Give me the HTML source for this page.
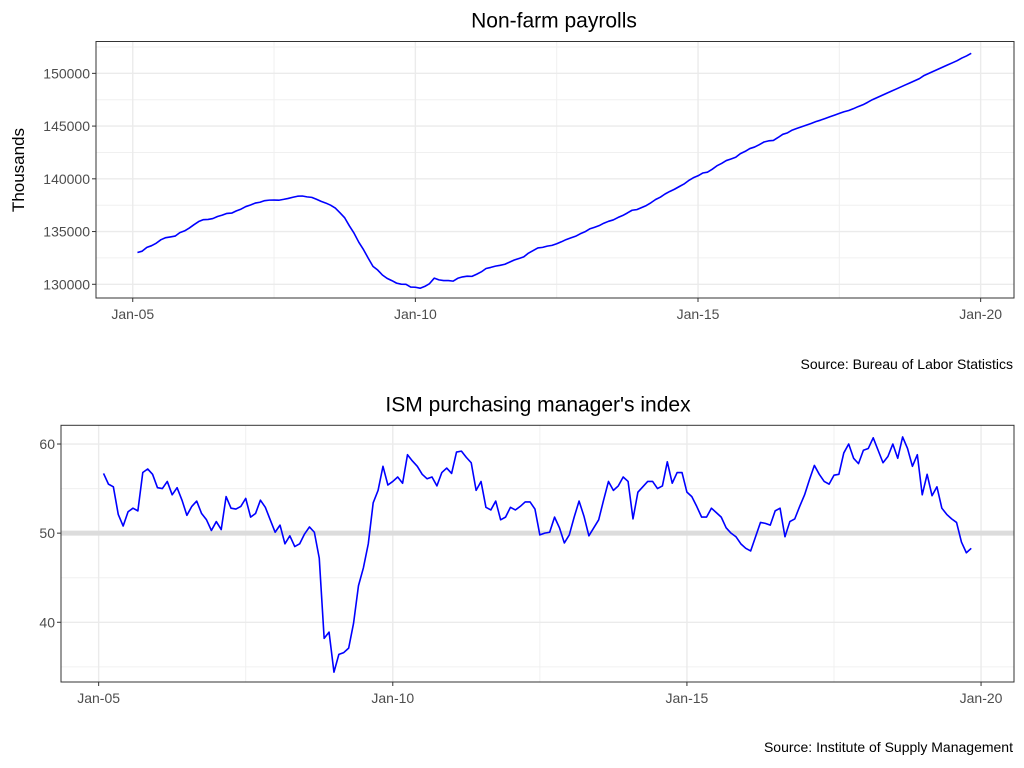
<!DOCTYPE html>
<html><head><meta charset="utf-8"><style>
body{margin:0;background:#fff}
svg{display:block;font-family:"Liberation Sans",sans-serif}
</style></head><body>
<svg id="c" width="1024" height="768"></svg>
<script>
const payStart=[2005,2];
const payrolls=[133010,133140,133500,133660,133900,134230,134420,134490,134570,134900,135060,
135330,135650,135950,136130,136150,136230,136430,136560,136720,136750,136960,137130,
137370,137520,137700,137780,137930,137980,137990,137970,138050,138140,138250,138350,
138370,138290,138240,138060,137860,137700,137500,137230,136780,136300,135530,134830,
133980,133280,132470,131700,131350,130880,130560,130350,130110,130010,130000,129740,
129720,129630,129800,130060,130580,130420,130350,130350,130300,130570,130700,130770,
130750,130950,131180,131500,131600,131720,131800,131900,132100,132300,132450,132600,
132950,133200,133450,133500,133620,133690,133840,134030,134240,134400,134550,134790,
134980,135250,135400,135560,135790,135970,136100,136330,136520,136760,137020,137080,
137270,137460,137730,138040,138260,138560,138800,139010,139260,139500,139830,140100,
140290,140550,140630,140900,141230,141460,141730,141880,142040,142390,142600,142870,
143010,143240,143490,143600,143640,143920,144220,144360,144620,144780,144940,145090,
145250,145420,145560,145720,145880,146040,146200,146360,146480,146650,146850,147020,
147250,147500,147700,147900,148100,148300,148500,148700,148900,149100,149300,149500,
149800,150000,150200,150400,150600,150800,151000,151200,151450,151650,151900];
const pmiStart=[2005,2];
const pmi=[56.7,55.5,55.2,52.1,50.8,52.4,52.8,52.5,56.8,57.2,56.6,
55.1,55.0,55.8,54.3,55.1,53.7,52.0,53.0,53.6,52.2,51.5,50.3,
51.3,50.4,54.1,52.8,52.7,53.0,53.9,51.8,52.2,53.7,52.9,51.5,
50.1,50.9,48.8,49.7,48.5,48.8,49.9,50.7,50.1,47.2,38.2,38.9,
34.4,36.4,36.6,37.1,39.9,44.1,46.1,48.8,53.4,54.8,57.5,55.4,
55.8,56.3,55.6,58.8,58.1,57.5,56.6,56.1,56.3,55.3,56.8,57.3,
56.7,59.1,59.2,58.5,57.9,54.8,55.8,52.9,52.6,53.6,51.5,51.8,
52.9,52.6,53.0,53.5,53.5,52.7,
49.8,50.0,50.1,51.8,50.6,48.9,49.8,51.8,53.6,51.9,49.7,50.6,51.5,53.7,55.8,54.8,55.3,56.3,55.8,51.6,54.6,55.2,55.8,55.8,55.0,55.3,58.0,55.6,56.8,56.8,54.6,54.1,53.0,51.8,51.8,52.8,52.3,51.8,50.6,50.0,49.6,48.8,48.3,48.0,49.6,51.2,51.1,50.9,52.5,52.8,49.6,51.3,51.6,53.0,54.3,56.0,57.6,56.6,55.8,55.5,56.5,56.6,59.0,60.0,58.4,57.8,59.3,59.5,60.7,59.3,57.9,58.6,60.0,58.4,60.8,59.5,57.5,58.8,54.3,56.6,54.2,55.2,52.8,52.1,51.6,51.2,49.0,47.8,48.3];
const payTicks=[130000,135000,140000,145000,150000];
const pmiTicks=[40,50,60];
const xTickLabels=["Jan-05","Jan-10","Jan-15","Jan-20"];
const xTickYears=[2005,2010,2015,2020];

const svg=document.getElementById('c');
const NS='http://www.w3.org/2000/svg';
function mk(tag,attrs,name,parent){const e=document.createElementNS(NS,tag);for(const k in attrs)e.setAttribute(k,attrs[k]);


(parent||svg).appendChild(e);return e;}
function txt(s,attrs,name){const e=mk('text',attrs,name);e.textContent=s;return e;}

function panel(o){
  const sx=t=>o.L+(t-o.t0)/(o.t1-o.t0)*(o.R-o.L);
  const sy=v=>o.B-(v-o.v0)/(o.v1-o.v0)*(o.B-o.T);
  const g=mk('g',{},o.name);
  for(let i=0;i<o.ticks.length;i++){
    const v=o.ticks[i]+o.minor; if(v<o.v1) mk('line',{x1:o.L,x2:o.R,y1:sy(v),y2:sy(v),stroke:'#f0f0f0','stroke-width':1},'y-minor-grid',g);
    const v2=o.ticks[i]-o.minor; if(i==0&&v2>o.v0) mk('line',{x1:o.L,x2:o.R,y1:sy(v2),y2:sy(v2),stroke:'#f0f0f0','stroke-width':1},'y-minor-grid',g);
  }
  for(const y of [2007.5,2012.5,2017.5]) mk('line',{x1:sx(y),x2:sx(y),y1:o.T,y2:o.B,stroke:'#f0f0f0','stroke-width':1},'x-minor-grid',g);
  o.ticks.forEach(v=>{
    mk('line',{x1:o.L,x2:o.R,y1:sy(v),y2:sy(v),stroke:'#ebebeb','stroke-width':1.4},'y-major-grid',g);
    mk('line',{x1:o.L-4,x2:o.L,y1:sy(v),y2:sy(v),stroke:'#333','stroke-width':1},'y-tick',g);
    txt(String(v),{x:o.L-6,y:sy(v)+5,'text-anchor':'end','font-size':14,fill:'#4d4d4d'},'y-tick-label');
  });
  xTickYears.forEach((y,i)=>{
    mk('line',{x1:sx(y),x2:sx(y),y1:o.T,y2:o.B,stroke:'#ebebeb','stroke-width':1.4},'x-major-grid',g);
    mk('line',{x1:sx(y),x2:sx(y),y1:o.B,y2:o.B+4,stroke:'#333','stroke-width':1},'x-tick',g);
    txt(xTickLabels[i],{x:sx(y),y:o.B+21,'text-anchor':'middle','font-size':14,fill:'#4d4d4d'},'x-tick-label');
  });
  if(o.ref!==undefined) mk('line',{x1:o.L,x2:o.R,y1:sy(o.ref),y2:sy(o.ref),stroke:'#dcdcdc','stroke-width':5},'reference-line-50',g);
  const pts=o.data.map((v,i)=>{const t=o.start[0]+(o.start[1]-1+i)/12;return sx(t).toFixed(2)+','+sy(v).toFixed(2);}).join(' ');
  mk('polyline',{points:pts,fill:'none',stroke:'#0000ff','stroke-width':1.6,'stroke-linejoin':'round'},o.name+'-line',g);
  mk('rect',{x:o.L,y:o.T,width:o.R-o.L,height:o.B-o.T,fill:'none',stroke:'#333','stroke-width':1},'plot-border',g);
  txt(o.title,{x:o.tx,y:o.T-14,'text-anchor':'middle','font-size':21,fill:'#000'},'chart-title');
  txt(o.source,{x:1013,y:o.sy,'text-anchor':'end','font-size':14,fill:'#000'},'source-caption');
}
panel({name:'payrolls-panel',L:96,R:1014,T:41.5,B:298,t0:2004.35,t1:2020.59,v0:128700,v1:153020,
  ticks:payTicks,minor:2500,data:payrolls,start:payStart,title:'Non-farm payrolls',tx:554,source:'Source: Bureau of Labor Statistics',sy:369});
panel({name:'pmi-panel',L:61,R:1014,T:425.3,B:682,t0:2004.36,t1:2020.56,v0:33.3,v1:62.1,
  ticks:pmiTicks,minor:5,data:pmi,start:pmiStart,ref:50,title:"ISM purchasing manager's index",tx:538,source:'Source: Institute of Supply Management',sy:752});
txt('Thousands',{x:0,y:0,transform:'translate(24,170) rotate(-90)','text-anchor':'middle','font-size':17,fill:'#000'},'y-axis-title');
</script>
</body></html>
